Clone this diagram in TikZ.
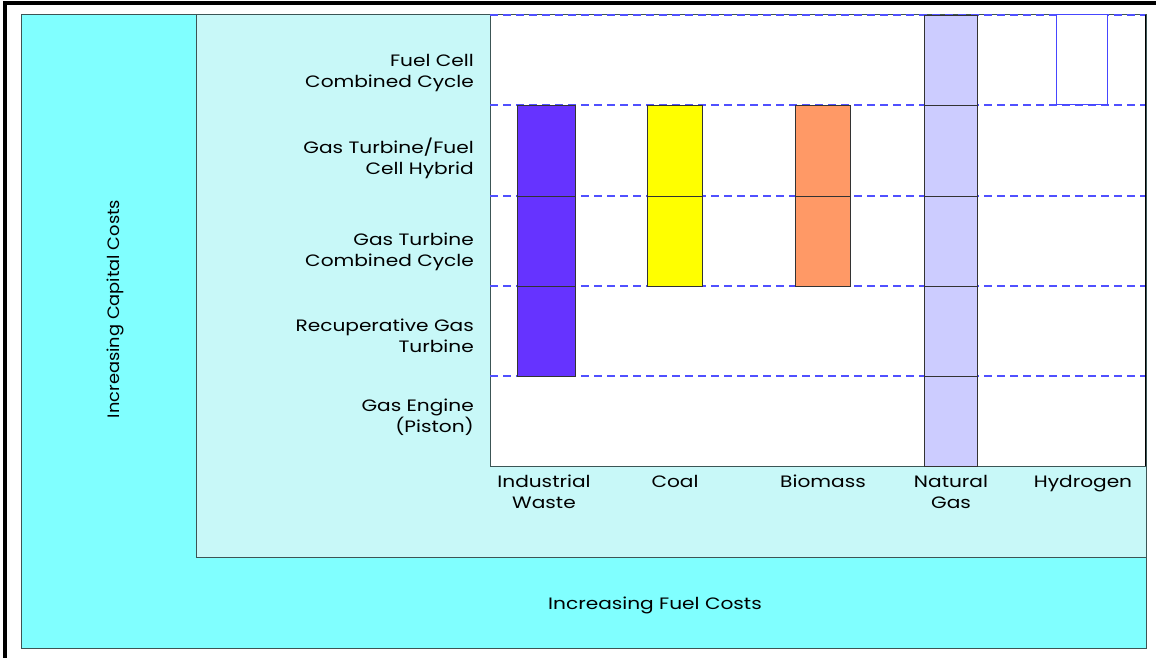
\documentclass[tikz,border=0pt]{standalone}
\usepackage{fontspec}
\setmainfont[FakeStretch=1.22]{Poppins}
\newfontfamily\narrowlbl[FakeStretch=1.08]{Poppins}
\definecolor{cyanA}{RGB}{128,255,255}
\definecolor{cyanB}{RGB}{200,248,248}
\definecolor{edgeC}{RGB}{60,85,85}
\definecolor{dashC}{RGB}{80,80,255}
\definecolor{iwC}{RGB}{102,51,255}
\definecolor{coalC}{RGB}{255,255,0}
\definecolor{bioC}{RGB}{255,153,102}
\definecolor{ngC}{RGB}{204,204,255}
\definecolor{hyC}{RGB}{70,70,255}
\tikzset{
  lbl/.style={font=\fontsize{16.5}{21}\selectfont, inner sep=0pt},
  rowlbl/.style={lbl, align=right, anchor=east},
  collbl/.style={lbl, align=center, anchor=north},
  gridline/.style={dashC, line width=1.2pt, dash pattern=on 8pt off 5pt},
  barbox/.style={draw=black!80, line width=0.9pt},
}
\begin{document}
\begin{tikzpicture}[x=1pt,y=-1pt]
\useasboundingbox (0,0) rectangle (1156,658);
% frame
\fill[black] (3,1.5) rectangle (1156,5.5);
\fill[black] (3,1.5) rectangle (7,658);
% outer and inner regions
\draw[fill=cyanA, draw=edgeC, line width=1pt] (21,15) rectangle (1146,648);
\draw[fill=cyanB, draw=edgeC, line width=1pt] (196,15) rectangle (1146,557);
\fill[white] (490,15) rectangle (1146,466);
\draw[edgeC, line width=1pt] (490,15) -- (490,466) -- (1146,466);
\draw[black, line width=1pt] (1145,15) -- (1145,466);
% grid lines
\foreach \yy in {15,105,196,286,376}
  \draw[gridline] (490,\yy) -- (1145,\yy);
% bars
\foreach \ya/\yb in {105/196,196/286,286/376}
  \draw[barbox, fill=iwC] (517,\ya) rectangle (575,\yb);
\foreach \ya/\yb in {105/196,196/286}
  \draw[barbox, fill=coalC] (647,\ya) rectangle (702,\yb);
\foreach \ya/\yb in {105/196,196/286}
  \draw[barbox, fill=bioC] (795,\ya) rectangle (850,\yb);
\foreach \ya/\yb in {15/105,105/196,196/286,286/376,376/466}
  \draw[barbox, fill=ngC] (924,\ya) rectangle (977,\yb);
\draw[hyC, line width=1pt, fill=white] (1056,15) rectangle (1107,105);
% row labels
\node[rowlbl] (r1) at (474,73) {Fuel Cell\\Combined Cycle};
\node[rowlbl] (r2) at (474,158) {Gas Turbine/Fuel\\Cell Hybrid};
\node[rowlbl] (r3) at (474,252) {Gas Turbine\\Combined Cycle};
\node[rowlbl] (r4) at (474,336) {Recuperative Gas\\Turbine};
\node[rowlbl] (r5) at (474,417) {Gas Engine\\(Piston)};
% column labels
\node[collbl] (c1) at (544,475) {Industrial\\Waste};
\node[collbl] (c2) at (675,475) {Coal};
\node[collbl] (c3) at (823,475) {Biomass};
\node[collbl] (c4) at (951,475) {Natural\\Gas};
\node[collbl] (c5) at (1083,475) {Hydrogen};
% axis labels
\node[lbl] (fx) at (655,605) {Increasing Fuel Costs};
\node[lbl, font=\narrowlbl\fontsize{16.5}{21}\selectfont, rotate=90] (fy) at (115,309) {Increasing Capital Costs};
\end{tikzpicture}
\end{document}
